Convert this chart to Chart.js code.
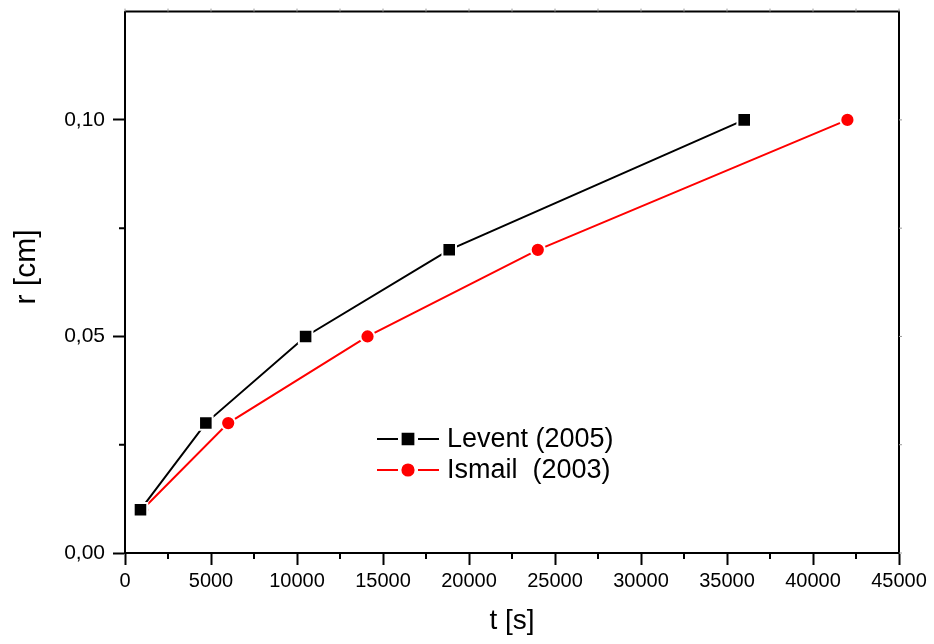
<!DOCTYPE html>
<html>
<head>
<meta charset="utf-8">
<title>r [cm] vs t [s]</title>
<script src="https://cdn.jsdelivr.net/npm/chart.js@4"></script>
<style>
  html, body { margin: 0; padding: 0; background: #fff; }
  #wrap { width: 934px; height: 644px; position: relative; }
</style>
</head>
<body>
<div id="wrap"><canvas id="myChart"></canvas></div>
<script>
// Données : rayon r [cm] en fonction du temps t [s]
const seriesLabels = ['Levent (2005)', 'Ismail  (2003)'];
const tLevent = [900, 4700, 10500, 18850, 36000];
const rLevent = [0.01, 0.03, 0.05, 0.07, 0.10];
const tIsmail = [1000, 6000, 14100, 24000, 42000];
const rIsmail = [0.01, 0.03, 0.05, 0.07, 0.10];

const xTicks = [0, 5000, 10000, 15000, 20000, 25000, 30000, 35000, 40000, 45000];
const yTicks = [0, 0.05, 0.10];
const xMinorTicks = [2500, 7500, 12500, 17500, 22500, 27500, 32500, 37500, 42500];
const yMinorTicks = [0.025, 0.075];

const FONT = "'Liberation Sans', Arial, sans-serif";

function toPoints(xs, ys) {
    return xs.map((x, i) => ({ x: x, y: ys[i] }));
}

// Cadre, petites graduations et titres des axes
const framePlugin = {
    id: 'frame',
    afterDraw(chart) {
        const ctx = chart.ctx;
        const a = chart.chartArea;
        const xs = chart.scales.x;
        const ys = chart.scales.y;
        ctx.save();
        ctx.strokeStyle = '#000';
        ctx.lineWidth = 2;
        ctx.beginPath();
        ctx.moveTo(a.left, a.top);
        ctx.lineTo(a.right, a.top);
        ctx.lineTo(a.right, a.bottom);
        ctx.stroke();

        // graduations secondaires
        ctx.beginPath();
        xMinorTicks.forEach(v => {
            const px = xs.getPixelForValue(v);
            ctx.moveTo(px, a.bottom);
            ctx.lineTo(px, a.bottom + 6);
        });
        yMinorTicks.forEach(v => {
            const py = ys.getPixelForValue(v);
            ctx.moveTo(a.left, py);
            ctx.lineTo(a.left - 6, py);
        });
        ctx.stroke();

        // petites marques sur les axes du haut et de droite
        ctx.strokeStyle = '#999';
        ctx.lineWidth = 1;
        ctx.beginPath();
        xTicks.concat(xMinorTicks).forEach(v => {
            const px = xs.getPixelForValue(v);
            ctx.moveTo(px, a.top);
            ctx.lineTo(px, a.top - 3);
        });
        yTicks.concat(yMinorTicks).forEach(v => {
            const py = ys.getPixelForValue(v);
            ctx.moveTo(a.right, py);
            ctx.lineTo(a.right + 3, py);
        });
        ctx.stroke();

        // titres des axes
        ctx.fillStyle = '#000';
        ctx.textAlign = 'center';
        ctx.textBaseline = 'middle';
        ctx.font = '28px ' + FONT;
        ctx.fillText('t [s]', (a.left + a.right) / 2, 621);
        ctx.translate(27, 267);
        ctx.rotate(-Math.PI / 2);
        ctx.font = '30px ' + FONT;
        ctx.fillText('r [cm]', 0, 0);
        ctx.restore();
    }
};

// Légende dessinée à l'intérieur de la zone du graphique
const insideLegend = {
    id: 'insideLegend',
    afterDatasetsDraw(chart) {
        const ctx = chart.ctx;
        const rows = [439, 470];
        ctx.save();
        chart.data.datasets.forEach((ds, i) => {
            const y = rows[i];
            ctx.strokeStyle = ds.borderColor;
            ctx.lineWidth = 2;
            ctx.beginPath();
            ctx.moveTo(377, y);
            ctx.lineTo(398, y);
            ctx.moveTo(418, y);
            ctx.lineTo(439, y);
            ctx.stroke();
            ctx.fillStyle = ds.pointBackgroundColor;
            ctx.strokeStyle = ds.pointBackgroundColor;
            Chart.helpers.drawPoint(ctx, {
                pointStyle: ds.pointStyle,
                radius: ds.legendRadius,
                borderWidth: 1,
                rotation: 0
            }, 408, y);
            ctx.fillStyle = '#000';
            ctx.font = '27px ' + FONT;
            ctx.textAlign = 'left';
            ctx.textBaseline = 'middle';
            ctx.fillText(ds.label, 447, y + 1);
        });
        ctx.restore();
    }
};

const ctx = document.getElementById('myChart').getContext('2d');
const myChart = new Chart(ctx, {
    type: 'scatter',
    data: {
        datasets: [
            {
                label: seriesLabels[0],
                data: toPoints(tLevent, rLevent),
                showLine: true,
                borderColor: '#000',
                borderWidth: 2,
                pointStyle: 'rect',
                pointRadius: 9.6,
                pointBackgroundColor: '#000',
                pointBorderColor: '#fff',
                pointBorderWidth: 2,
                legendRadius: 7.6
            },
            {
                label: seriesLabels[1],
                data: toPoints(tIsmail, rIsmail),
                showLine: true,
                borderColor: '#ff0000',
                borderWidth: 2,
                pointStyle: 'circle',
                pointRadius: 7.1,
                pointBackgroundColor: '#ff0000',
                pointBorderColor: '#fff',
                pointBorderWidth: 2,
                legendRadius: 5.6
            }
        ]
    },
    options: {
        responsive: true,
        maintainAspectRatio: false,
        animation: false,
        layout: { padding: { top: 6, right: 35, left: 0, bottom: 0 } },
        plugins: {
            legend: { display: false },
            tooltip: { enabled: false }
        },
        scales: {
            x: {
                type: 'linear',
                min: 0,
                max: 45000,
                afterBuildTicks: scale => { scale.ticks = xTicks.map(v => ({ value: v })); },
                afterFit: scale => { scale.height = 91; },
                ticks: {
                    color: '#000',
                    padding: 4,
                    maxRotation: 0,
                    font: { family: FONT, size: 20 },
                    callback: v => String(v)
                },
                grid: {
                    drawOnChartArea: false,
                    tickLength: 12,
                    tickWidth: 2,
                    tickColor: '#000'
                },
                border: { display: true, color: '#000', width: 2 }
            },
            y: {
                type: 'linear',
                min: 0,
                max: 0.125,
                afterBuildTicks: scale => { scale.ticks = yTicks.map(v => ({ value: v })); },
                afterFit: scale => {
                    scale.width = 125;
                    // la dernière étiquette n'est pas en haut : pas de marge supplémentaire
                    scale.paddingTop = 0;
                    scale.paddingBottom = 0;
                },
                ticks: {
                    color: '#000',
                    padding: 8,
                    font: { family: FONT, size: 21 },
                    callback: v => v.toFixed(2).replace('.', ',')
                },
                grid: {
                    drawOnChartArea: false,
                    tickLength: 12,
                    tickWidth: 2,
                    tickColor: '#000'
                },
                border: { display: true, color: '#000', width: 2 }
            }
        }
    },
    plugins: [framePlugin, insideLegend]
});
</script>
</body>
</html>
